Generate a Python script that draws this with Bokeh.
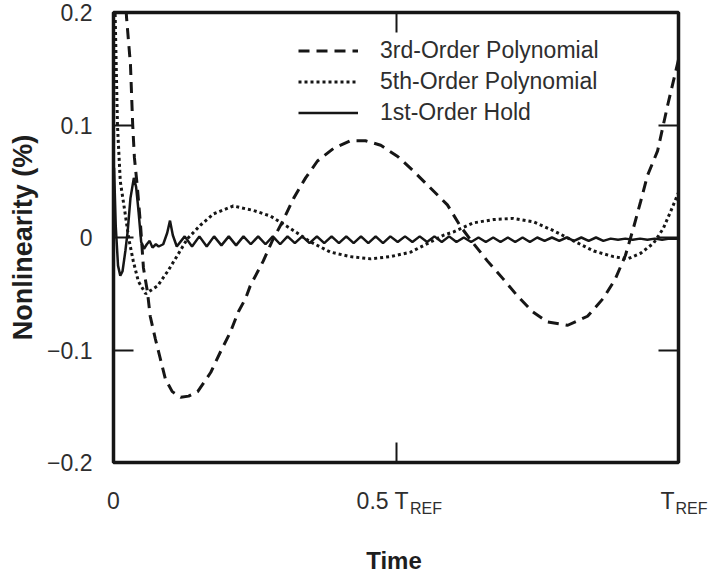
from bokeh.plotting import figure
from bokeh.models import LinearAxis, Range1d, Legend, LegendItem, FixedTicker
from bokeh.core.properties import value
from bokeh.embed import file_html
from bokeh.resources import INLINE

# ---- data: time as a fraction of T_REF, nonlinearity in percent ----
poly3_t = [0.018, 0.023, 0.030, 0.034, 0.037, 0.042, 0.048, 0.053, 0.060,
           0.065, 0.074, 0.083, 0.092, 0.104, 0.119, 0.133, 0.149, 0.172,
           0.189, 0.207, 0.221, 0.234, 0.242, 0.265, 0.281, 0.299, 0.319,
           0.340, 0.361, 0.389, 0.419, 0.446, 0.473, 0.503, 0.531, 0.561,
           0.591, 0.614, 0.635, 0.662, 0.690, 0.715, 0.742, 0.768, 0.804,
           0.839, 0.867, 0.888, 0.906, 0.920, 0.933, 0.945, 0.963, 0.981,
           1.000]
poly3_y = [0.250, 0.196, 0.154, 0.100, 0.071, 0.046, 0.010, -0.027, -0.048,
           -0.070, -0.090, -0.108, -0.126, -0.137, -0.142, -0.141, -0.137,
           -0.120, -0.102, -0.084, -0.066, -0.054, -0.043, -0.021, -0.003,
           0.014, 0.035, 0.053, 0.068, 0.079, 0.086, 0.086, 0.082, 0.072,
           0.059, 0.044, 0.029, 0.010, -0.004, -0.021, -0.037, -0.052,
           -0.066, -0.075, -0.078, -0.070, -0.054, -0.037, -0.016, 0.008,
           0.032, 0.055, 0.077, 0.118, 0.158]

poly5_t = [0.000, 0.002, 0.007, 0.012, 0.021, 0.027, 0.035, 0.044, 0.057,
           0.078, 0.096, 0.113, 0.131, 0.154, 0.177, 0.212, 0.248, 0.278,
           0.313, 0.349, 0.384, 0.419, 0.455, 0.490, 0.526, 0.561, 0.584,
           0.602, 0.637, 0.673, 0.708, 0.743, 0.779, 0.814, 0.850, 0.885,
           0.910, 0.933, 0.956, 0.973, 0.986, 1.000]
poly5_y = [0.300, 0.220, 0.100, 0.050, 0.020, -0.001, -0.021, -0.039, -0.050,
           -0.043, -0.030, -0.016, -0.001, 0.011, 0.021, 0.028, 0.024, 0.019,
           0.008, -0.004, -0.013, -0.017, -0.019, -0.017, -0.013, -0.004,
           0.002, 0.005, 0.013, 0.016, 0.017, 0.014, 0.006, -0.003, -0.012,
           -0.017, -0.019, -0.014, -0.005, 0.008, 0.023, 0.040]

hold_t = [0.000, 0.001, 0.004, 0.008, 0.012, 0.016, 0.021, 0.025, 0.030,
          0.036, 0.040, 0.044, 0.049, 0.054, 0.059, 0.064, 0.069, 0.075,
          0.080, 0.088, 0.095, 0.100, 0.105, 0.112,
          0.126, 0.139, 0.152, 0.165, 0.178, 0.191, 0.204, 0.217, 0.230,
          0.243, 0.256, 0.269, 0.282, 0.295, 0.308, 0.321, 0.334, 0.347,
          0.360, 0.373, 0.386, 0.399, 0.412, 0.425, 0.438, 0.451, 0.464,
          0.477, 0.490, 0.503, 0.516, 0.529, 0.542, 0.555, 0.568, 0.581,
          0.594, 0.607, 0.620, 0.633, 0.646, 0.659, 0.672, 0.685, 0.698,
          0.711, 0.724, 0.737, 0.750, 0.763, 0.776, 0.789, 0.802, 0.815,
          0.828, 0.841, 0.854, 0.867, 0.880, 0.893, 0.906, 0.919, 0.932,
          0.945, 0.958, 0.971, 0.984, 1.000]
hold_y = [0.000, 0.062, 0.010, -0.025, -0.034, -0.030, -0.012, 0.005, 0.035,
          0.053, 0.045, 0.025, -0.004, -0.010, -0.006, -0.003, -0.009, -0.006,
          -0.008, -0.006, 0.004, 0.015, 0.002, -0.008,
          0.001, -0.008, 0.001, -0.008, 0.001, -0.007, 0.001, -0.007, 0.001,
          -0.006, 0.001, -0.006, 0.001, -0.006, 0.001, -0.005, 0.001, -0.005,
          0.001, -0.005, 0.001, -0.005, 0.001, -0.005, 0.001, -0.005, 0.001,
          -0.005, 0.001, -0.004, 0.001, -0.004, 0.001, -0.004, 0.001, -0.004,
          0.001, -0.004, 0.000, -0.004, 0.000, -0.004, 0.000, -0.004, 0.000,
          -0.004, 0.000, -0.004, 0.000, -0.003, 0.000, -0.003, 0.000, -0.003,
          0.000, -0.003, 0.000, -0.003, -0.001, -0.002, -0.001, -0.002, -0.001,
          -0.002, -0.001, -0.002, -0.001, -0.001]

series_names = ["3rd-Order Polynomial", "5th-Order Polynomial", "1st-Order Hold"]

y_ticks = [-0.2, -0.1, 0.0, 0.1, 0.2]
y_tick_labels = ["\u22120.2", "\u22120.1", "0", "0.1", "0.2"]
x_tick_pos = [0.0, 0.5, 1.0]
x_tick_main = ["0", "0.5 T", "T"]
x_tick_sub = ["", "REF", "REF"]

FONT = "Liberation Sans"
TEXT = "#2e2e2e"
INK = "#161616"

W = 708
LEFT, RIGHT = 113, 30
FRAME_W = W - LEFT - RIGHT
TOP_H, STRIP_H = 480, 94

p = figure(width=W, height=TOP_H, x_range=Range1d(0, 1), y_range=Range1d(-0.2, 0.2),
           output_backend="svg", toolbar_location=None,
           min_border_left=LEFT, min_border_right=RIGHT, min_border_top=12,
           min_border_bottom=18, background_fill_color="white",
           border_fill_color="white")
p.grid.visible = False
p.outline_line_color = INK
p.outline_line_width = 3.5

# left axis: labelled ticks pointing into the frame
ya = p.yaxis[0]
ya.ticker = FixedTicker(ticks=y_ticks)
ya.major_label_overrides = dict(zip(y_ticks, y_tick_labels))
ya.major_tick_in = 20
ya.major_tick_out = 0
ya.major_tick_line_width = 2
ya.major_tick_line_color = INK
ya.minor_tick_line_color = None
ya.axis_line_color = None
ya.major_label_standoff = 21
ya.major_label_text_font = FONT
ya.major_label_text_font_size = "23px"
ya.major_label_text_color = TEXT
ya.axis_label = "Nonlinearity (%)"
ya.axis_label_text_font = FONT
ya.axis_label_text_font_size = "27px"
ya.axis_label_text_font_style = "bold"
ya.axis_label_text_color = "#1e1e1e"
ya.axis_label_standoff = 6

# bottom axis: only the inner tick at mid-scale; its labels sit in the strip below
xa = p.xaxis[0]
xa.ticker = FixedTicker(ticks=[0.5])
xa.major_label_overrides = {0.5: ""}
xa.major_tick_in = 20
xa.major_tick_out = 0
xa.major_tick_line_width = 2
xa.major_tick_line_color = INK
xa.minor_tick_line_color = None
xa.axis_line_color = None

right = LinearAxis(ticker=FixedTicker(ticks=[-0.1, 0.0, 0.1]),
                   major_label_overrides={-0.1: "", 0.0: "", 0.1: ""},
                   major_tick_in=20, major_tick_out=0, major_tick_line_width=2,
                   major_tick_line_color=INK, minor_tick_line_color=None,
                   axis_line_color=None)
p.add_layout(right, "right")

top = LinearAxis(ticker=FixedTicker(ticks=[0.5]), major_label_overrides={0.5: ""},
                 major_tick_in=20, major_tick_out=0, major_tick_line_width=2,
                 major_tick_line_color=INK, minor_tick_line_color=None,
                 axis_line_color=None)
p.add_layout(top, "above")

# curves
r3 = p.line(poly3_t, poly3_y, line_color=INK, line_width=3, line_dash="11 7")
r5 = p.line(poly5_t, poly5_y, line_color=INK, line_width=3, line_dash="3 3")
r1 = p.line(hold_t, hold_y, line_color=INK, line_width=2.5)

legend = Legend(items=[LegendItem(label=series_names[0], renderers=[r3]),
                       LegendItem(label=series_names[1], renderers=[r5]),
                       LegendItem(label=series_names[2], renderers=[r1])],
                location=(185, 336), border_line_color=None,
                background_fill_alpha=0, label_text_font=FONT,
                label_text_font_size="23px", label_text_color=TEXT,
                glyph_width=60, glyph_height=25, label_height=25,
                label_standoff=22, spacing=4, padding=0, margin=0)
p.add_layout(legend)

# strip under the plot for the time tick labels (with subscript REF) and title;
# its x scale spans the full width but lines up with the plot's time axis
strip = figure(width=W, height=STRIP_H,
               x_range=Range1d(-LEFT / FRAME_W, 1 + RIGHT / FRAME_W),
               y_range=Range1d(0, STRIP_H), output_backend="svg",
               toolbar_location=None, x_axis_location=None, y_axis_location=None,
               min_border_left=0, min_border_right=0, min_border_top=0,
               min_border_bottom=0, outline_line_color=None,
               background_fill_color="white", border_fill_color="white")
strip.grid.visible = False

main_x = [x for x, s in zip(x_tick_pos, x_tick_sub) if s]
main_t = [m for m, s in zip(x_tick_main, x_tick_sub) if s]
sub_t = [s for s in x_tick_sub if s]
shift = [13, -4]

strip.text(x=[x_tick_pos[0]], y=[74], text=[x_tick_main[0]], text_align="center",
           text_baseline="middle", text_font=value(FONT), text_font_size="23px",
           text_color=TEXT)
strip.text(x=main_x, y=[74] * len(main_x), text=main_t, x_offset=shift,
           text_align="right", text_baseline="middle", text_font=value(FONT),
           text_font_size="23px", text_color=TEXT)
strip.text(x=main_x, y=[66] * len(main_x), text=sub_t, x_offset=[s + 1 for s in shift],
           text_align="left", text_baseline="middle", text_font=value(FONT),
           text_font_size="16px", text_color=TEXT)
strip.text(x=[0.5], y=[14], text=["Time"], x_offset=-2, text_align="center",
           text_baseline="middle", text_font=value(FONT), text_font_size="24px",
           text_font_style="bold", text_color="#1e1e1e")

open("out.html", "w").write(file_html([p, strip], INLINE))
